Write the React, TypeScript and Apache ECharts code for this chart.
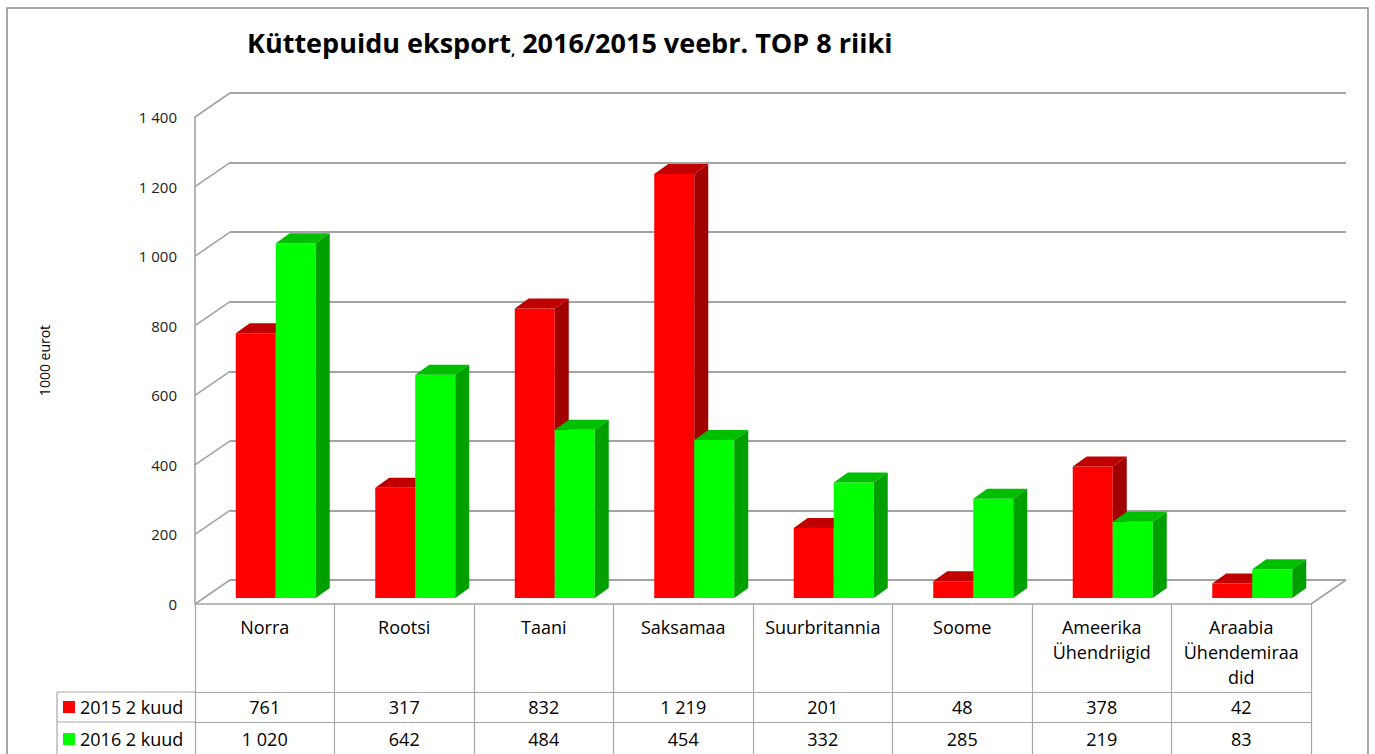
import React, { useEffect, useRef } from "react";
import * as echarts from "echarts";

// ---- data ----
const categories = [
  "Norra",
  "Rootsi",
  "Taani",
  "Saksamaa",
  "Suurbritannia",
  "Soome",
  "Ameerika\nÜhendriigid",
  "Araabia\nÜhendemiraa\ndid",
];
const seriesNames = ["2015 2 kuud", "2016 2 kuud"];
const values2015 = [761, 317, 832, 1219, 201, 48, 378, 42];
const values2016 = [1020, 642, 484, 454, 332, 285, 219, 83];
const yTicks = [0, 200, 400, 600, 800, 1000, 1200, 1400];

// ---- styling / layout ----
const FONT = "'Open Sans', 'Noto Sans', sans-serif";
const GRID_W = 1116;
const GRID_H = 487;
const FRONT = { left: 195, top: 117 };
const WALL = { dx: 35, dy: -24 };
const BAR_SHIFT = { dx: 11, dy: -6 };
const BAR_DEPTH = { dx: 14, dy: -10 };
const BAR_RATIO = 40 / 139.5;
const GRID_LINE = "#a3a3a3";
const TABLE_LINE = "#a8a8a8";

const faces = [
  { front: "#FF0000", top: "#C00000", side: "#A00000" },
  { front: "#00FF00", top: "#00BF00", side: "#00A000" },
];

const fmt = (v: number | string) =>
  String(v).replace(/\B(?=(\d{3})+(?!\d))/g, " ");

function barRender(seriesIdx: number) {
  return (params: any, api: any) => {
    const ci = api.value(0);
    const v = api.value(1);
    const top = api.coord([ci, v]);
    const base = api.coord([ci, 0]);
    const bw = api.size([1, 0])[0] * BAR_RATIO;
    const x0 = seriesIdx === 0 ? top[0] - bw : top[0];
    const y1 = top[1];
    const y0 = base[1];
    const { dx, dy } = BAR_DEPTH;
    const c = faces[seriesIdx];
    return {
      type: "group",
      children: [
        {
          type: "rect",
          shape: { x: x0, y: y1, width: bw, height: y0 - y1 },
          style: { fill: c.front },
        },
        {
          type: "polygon",
          shape: {
            points: [
              [x0, y1],
              [x0 + dx, y1 + dy],
              [x0 + bw + dx, y1 + dy],
              [x0 + bw, y1],
            ],
          },
          style: { fill: c.top },
        },
        {
          type: "polygon",
          shape: {
            points: [
              [x0 + bw, y1],
              [x0 + bw + dx, y1 + dy],
              [x0 + bw + dx, y0 + dy],
              [x0 + bw, y0],
            ],
          },
          style: { fill: c.side },
        },
      ],
    };
  };
}

function wallRender(params: any, api: any) {
  const v = api.value(1);
  const p = api.coord([0, v]);
  const cs = params.coordSys;
  const children: any[] = [
    {
      type: "line",
      shape: { x1: p[0], y1: p[1], x2: p[0] - WALL.dx, y2: p[1] - WALL.dy },
      style: { stroke: GRID_LINE, lineWidth: 1.6 },
    },
  ];
  if (v === 0) {
    const xr = cs.x + cs.width;
    children.push({
      type: "line",
      shape: { x1: xr, y1: p[1], x2: xr - WALL.dx, y2: p[1] - WALL.dy },
      style: { stroke: GRID_LINE, lineWidth: 1.6 },
    });
  }
  return { type: "group", children };
}

export default function App() {
  const ref = useRef<HTMLDivElement>(null);

  useEffect(() => {
    if (!ref.current) return;
    const chart = echarts.init(ref.current, null, { renderer: "svg" });

    const valueRowAxis = (data: number[], offset: number, margin: number) => ({
      type: "category",
      gridIndex: 0,
      position: "bottom",
      offset,
      data: data.map(fmt),
      axisLine: { show: true, lineStyle: { color: TABLE_LINE, width: 1.2 } },
      axisTick: {
        show: true,
        length: 32,
        interval: 0,
        lineStyle: { color: TABLE_LINE, width: 1.2 },
      },
      axisLabel: {
        interval: 0,
        margin,
        fontSize: 18,
        lineHeight: 20,
        color: "#000",
        fontFamily: FONT,
      },
    });

    const legendItem = (name: string, top: number) => ({
      data: [name],
      orient: "horizontal",
      left: 63,
      top,
      padding: 0,
      icon: "rect",
      itemWidth: 12,
      itemHeight: 12,
      selectedMode: false,
      textStyle: {
        fontSize: 18,
        lineHeight: 20,
        color: "#000",
        fontFamily: FONT,
      },
    });

    chart.setOption({
      animation: false,
      backgroundColor: "#fff",
      title: {
        left: 247,
        top: 29,
        padding: 0,
        text: "{a|Küttepuidu eksport}{b|,}{a| 2016/2015 veebr. TOP 8 riiki}",
        textStyle: {
          rich: {
            a: {
              fontSize: 27,
              fontWeight: "bold",
              fontFamily: FONT,
              color: "#000",
            },
            b: {
              fontSize: 15,
              fontFamily: FONT,
              color: "#000",
              verticalAlign: "bottom",
            },
          },
        },
      },
      legend: [legendItem(seriesNames[0], 697), legendItem(seriesNames[1], 729)],
      grid: [
        { left: FRONT.left, top: FRONT.top, width: GRID_W, height: GRID_H },
        {
          left: FRONT.left + WALL.dx,
          top: FRONT.top + WALL.dy,
          width: GRID_W,
          height: GRID_H,
        },
        {
          left: FRONT.left + BAR_SHIFT.dx,
          top: FRONT.top + BAR_SHIFT.dy,
          width: GRID_W,
          height: GRID_H,
        },
      ],
      xAxis: [
        {
          type: "category",
          gridIndex: 0,
          data: categories,
          axisLine: { show: true, lineStyle: { color: GRID_LINE, width: 1.6 } },
          axisTick: {
            show: true,
            length: 88,
            interval: 0,
            lineStyle: { color: TABLE_LINE, width: 1.2 },
          },
          axisLabel: {
            interval: 0,
            margin: 10,
            fontSize: 18,
            lineHeight: 25,
            color: "#000",
            fontFamily: FONT,
          },
        },
        valueRowAxis(values2015, 88, 5),
        valueRowAxis(values2016, 118, 7),
        { type: "value", gridIndex: 1, min: 0, max: 1, show: false },
        { type: "category", gridIndex: 2, data: categories, show: false },
      ],
      yAxis: [
        {
          type: "value",
          gridIndex: 0,
          min: 0,
          max: 1400,
          interval: 200,
          axisLine: { show: true, lineStyle: { color: GRID_LINE, width: 1.6 } },
          axisTick: { show: false },
          splitLine: { show: false },
          axisLabel: {
            margin: 18,
            fontSize: 15,
            color: "#222",
            fontFamily: FONT,
            formatter: (v: number) => fmt(v),
          },
          name: "1000 eurot",
          nameLocation: "middle",
          nameGap: 144,
          nameTextStyle: { fontSize: 14, color: "#000", fontFamily: FONT },
        },
        {
          type: "value",
          gridIndex: 1,
          min: 0,
          max: 1400,
          interval: 200,
          axisLine: { show: false },
          axisTick: { show: false },
          axisLabel: { show: false },
          splitLine: { show: true, lineStyle: { color: GRID_LINE, width: 2 } },
        },
        {
          type: "value",
          gridIndex: 2,
          min: 0,
          max: 1400,
          show: false,
        },
      ],
      series: [
        {
          type: "custom",
          name: "wall",
          xAxisIndex: 3,
          yAxisIndex: 1,
          silent: true,
          z: 1,
          data: yTicks.map((t) => [0, t]),
          renderItem: wallRender,
        },
        {
          type: "custom",
          name: seriesNames[0],
          xAxisIndex: 4,
          yAxisIndex: 2,
          z: 3,
          itemStyle: { color: faces[0].front },
          data: values2015.map((v, i) => [i, v]),
          renderItem: barRender(0),
        },
        {
          type: "custom",
          name: seriesNames[1],
          xAxisIndex: 4,
          yAxisIndex: 2,
          z: 4,
          itemStyle: { color: faces[1].front },
          data: values2016.map((v, i) => [i, v]),
          renderItem: barRender(1),
        },
      ],
      graphic: [
        {
          type: "rect",
          shape: { x: 7, y: 8, width: 1361, height: 770 },
          style: { fill: "none", stroke: "#8c8c8c", lineWidth: 1.5 },
          silent: true,
        },
        {
          type: "line",
          shape: { x1: 57, y1: 692, x2: 57, y2: 760 },
          style: { stroke: TABLE_LINE, lineWidth: 1.2 },
          silent: true,
        },
        {
          type: "line",
          shape: { x1: 57, y1: 692, x2: 195, y2: 692 },
          style: { stroke: TABLE_LINE, lineWidth: 1.2 },
          silent: true,
        },
        {
          type: "line",
          shape: { x1: 57, y1: 722, x2: 195, y2: 722 },
          style: { stroke: TABLE_LINE, lineWidth: 1.2 },
          silent: true,
        },
      ],
    });

    return () => chart.dispose();
  }, []);

  return (
    <div
      ref={ref}
      style={{
        position: "fixed",
        left: 0,
        top: 0,
        width: 1375,
        height: 754,
        background: "#fff",
      }}
    />
  );
}
